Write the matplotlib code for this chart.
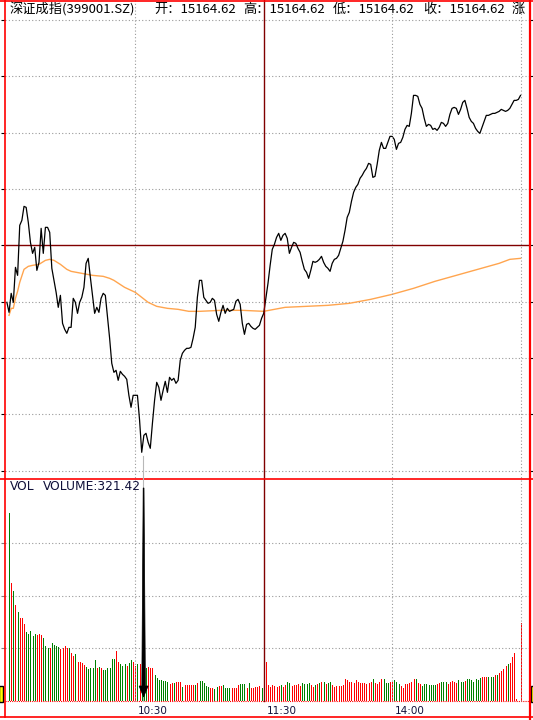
import numpy as np
import matplotlib
matplotlib.use("Agg")
import matplotlib.pyplot as plt
from matplotlib import transforms
from matplotlib.patches import Rectangle, Polygon

# ── 数据 ──────────────────────────────────────────────────
PREV_CLOSE = 15164.62
GRID_STEP = 56.35          # 价格网格间距（点）
VOL_MAX = 422.0

# 每分钟涨跌（点），第 0 ~ 240 分钟
price_chg = [
    -57, -67, -48, -57, -22, -30, 20, 25, 39, 38,
    23, 3, -8, -2, -25, -17, 17, -8, 18, 18,
    13, -23, -35, -47, -62, -50, -78, -84, -88, -82,
    -82, -53, -57, -68, -57, -52, -42, -18, -13, -32,
    -50, -68, -62, -67, -53, -48, -50, -72, -93, -118,
    -127, -125, -135, -126, -129, -131, -134, -150, -162, -150,
    -150, -150, -175, -207, -190, -188, -197, -203, -178, -155,
    -137, -142, -155, -145, -136, -147, -132, -135, -133, -138,
    -135, -115, -108, -105, -103, -103, -102, -93, -82, -52,
    -35, -35, -52, -55, -58, -57, -53, -55, -69, -76,
    -67, -60, -68, -63, -66, -65, -64, -56, -54, -59,
    -78, -89, -79, -78, -81, -83, -84, -82, -80, -73,
    -68, -53, -38, -20, -4, 1, 8, 12, 5, 10,
    12, 7, -8, -2, 3, 2, -3, -7, -16, -24,
    -27, -33, -25, -16, -17, -16, -14, -11, -17, -21,
    -23, -26, -18, -14, -13, -10, -3, 4, 15, 28,
    33, 44, 53, 58, 61, 67, 70, 74, 77, 82,
    81, 68, 69, 81, 95, 103, 97, 97, 103, 109,
    109, 106, 96, 102, 103, 108, 116, 120, 119, 132,
    150, 150, 149, 141, 137, 127, 119, 121, 120, 116,
    117, 115, 118, 123, 122, 119, 122, 131, 137, 138,
    137, 131, 136, 143, 145, 137, 128, 124, 122, 117,
    114, 112, 118, 124, 130, 130, 131, 132, 132, 133,
    134, 136, 135, 134, 135, 137, 141, 145, 145, 146,
    150,
]

# 均价线（分钟, 涨跌点）
avg_minutes = [1, 2, 3, 4, 5, 6, 8, 10, 12, 15, 18, 20, 22, 25, 28, 30, 35,
               40, 45, 48, 50, 55, 60, 63, 66, 70, 75, 80, 85, 90, 100, 110,
               120, 125, 130, 140, 150, 160, 170, 180, 190, 200, 210, 220,
               230, 235, 240]
avg_chg = [-70, -63, -63, -53, -46, -37, -24, -21, -20, -19, -15, -14, -15,
           -19, -24, -26, -28, -30, -31, -33, -35, -42, -47, -52, -57, -61,
           -63, -64, -66, -66, -65, -65, -66, -64, -62, -61, -60, -58, -54,
           -49, -43, -36, -30, -24, -18, -14, -13]

# 每分钟成交量，第 1 ~ 240 分钟
volumes = [
    358, 224, 210, 182, 170, 158, 158, 147, 132, 127,
    134, 124, 127, 126, 128, 126, 120, 105, 101, 101,
    110, 107, 105, 103, 99, 100, 105, 100, 100, 91,
    85, 89, 75, 74, 72, 68, 65, 60, 62, 62,
    77, 62, 65, 62, 58, 58, 63, 63, 79, 79,
    95, 75, 71, 66, 71, 66, 72, 77, 75, 66,
    71, 70, 85, 77, 62, 65, 63, 63, 49, 44,
    39, 39, 38, 38, 37, 32, 34, 34, 36, 36,
    36, 27, 30, 30, 30, 30, 31, 31, 34, 38,
    38, 34, 28, 27, 25, 25, 22, 27, 28, 28,
    31, 25, 25, 25, 25, 25, 25, 31, 32, 32,
    32, 25, 34, 25, 25, 27, 27, 28, 24, 24,
    75, 30, 27, 30, 28, 27, 28, 30, 27, 31,
    37, 34, 28, 30, 30, 32, 28, 34, 33, 33,
    34, 30, 27, 30, 33, 34, 36, 37, 32, 34,
    36, 30, 27, 28, 28, 28, 30, 41, 39, 36,
    36, 35, 39, 36, 34, 35, 34, 33, 34, 36,
    42, 34, 33, 36, 42, 42, 34, 34, 36, 36,
    39, 37, 32, 28, 25, 32, 32, 34, 36, 42,
    41, 34, 33, 28, 33, 32, 30, 30, 30, 30,
    33, 34, 36, 36, 36, 32, 37, 38, 36, 34,
    39, 37, 36, 38, 41, 41, 39, 36, 41, 39,
    44, 46, 46, 46, 46, 46, 46, 49, 49, 54,
    57, 60, 66, 70, 72, 84, 91, 4, 0, 149,
]
# R = 上涨(红)  G = 下跌(绿)
vol_colors = ("GRGRGRRRGG" "GGGRRRGGGR" "GGGGRRRRGR" "RGRRRRGGGG"
              "GRGRGGGGGG" "RRGGGRGGRR" "GRGGGRRRGG" "GGGGGRRGRR"
              "RGRRRRRGRG" "GGGGRRGGRR" "GGGGRRRRGG" "GRGRRRRRGR"
              "RRRRRRRGRR" "GGRRRRRGGG" "GRRGRGRGRG" "GRRRRRRRRR"
              "RRRRRRRRRR" "GRRRRGGGRR" "GGGRRRRRRR" "GRRGGGGGGG"
              "RRGGGRRRRR" "GGGRGGGGGG" "GRRRGGGRGR" "RRRGRRRRRR")

time_ticks = [60, 120, 180]
time_labels = ["10:30", "11:30", "14:00"]
grid_minutes = [60, 180, 240]
cursor_minute = 63.8

title_parts = ["深证成指(399001.SZ)", "开：15164.62", "高：15164.62",
               "低：15164.62", "收：15164.62", "涨"]

# ── 颜色 ──────────────────────────────────────────────────
C_RED = "#FF0000"
C_GREEN = "#008000"
C_DRED = "#800000"
C_GRID = "#9A9A9A"
C_AVG = "#FFA54F"
C_TEXT = "#10103A"

W, H = 533, 720
fig = plt.figure(figsize=(W / 100, H / 100), dpi=100, facecolor="white")


def px_axes(x0, y0, x1, y1):
    """像素坐标（左上为原点）-> figure 坐标"""
    return [x0 / W, 1 - y1 / H, (x1 - x0) / W, (y1 - y0) / H]


X0, X1 = 4.5, 529.3
ax = fig.add_axes(px_axes(X0, 20, X1, 470.7))
axv = fig.add_axes(px_axes(X0, 479, X1, 701), sharex=ax)
ov = fig.add_axes([0, 0, 1, 1])
ov.set_xlim(0, W)
ov.set_ylim(H, 0)
ov.axis("off")
ov.set_zorder(5)
ov.patch.set_visible(False)

for a in (ax, axv):
    a.patch.set_visible(False)
    for s in a.spines.values():
        s.set_visible(False)
    a.tick_params(axis="x", bottom=False, labelbottom=False)

ax.set_xlim(-1.12, 244.1)

# ── 分时价格 ──────────────────────────────────────────────
minutes = np.arange(len(price_chg))
prices = PREV_CLOSE + np.array(price_chg, dtype=float)
avg_prices = PREV_CLOSE + np.array(avg_chg, dtype=float)

ax.set_ylim(PREV_CLOSE - 4 * GRID_STEP, PREV_CLOSE + 4 * GRID_STEP)
levels = PREV_CLOSE + GRID_STEP * np.arange(-4, 5)
for k, lv in zip(range(-4, 5), levels):
    if k == 0:
        ax.axhline(lv, color=C_DRED, lw=1.0, zorder=1)
    else:
        ax.axhline(lv, color=C_GRID, lw=0.8, ls=(0, (1, 2)), clip_on=False, zorder=1)
ax.set_yticks(levels)
ax.tick_params(axis="y", left=True, right=True, direction="out", length=3,
               width=0.8, labelleft=False, labelright=False)
for t in ax.yaxis.get_major_ticks():
    t.tick1line.set_color("#808080")
    t.tick2line.set_color(C_RED)

ax.plot(avg_minutes, avg_prices, color=C_AVG, lw=1.0, zorder=3)
ax.plot(minutes, prices, color="black", lw=0.9, zorder=4)

# ── 成交量 ────────────────────────────────────────────────
vol_min = np.arange(1, len(volumes) + 1)
cols = [C_RED if c == "R" else C_GREEN for c in vol_colors]
axv.set_ylim(0, VOL_MAX)
for lv in (100, 200, 300):
    axv.axhline(lv, color=C_GRID, lw=0.8, ls=(0, (1, 2)), zorder=1)
axv.set_yticks([100, 200, 300])
axv.tick_params(axis="y", left=True, right=False, direction="out", length=3,
                width=0.8, color="#808080", labelleft=False)
axv.vlines(vol_min, 0, volumes, colors=cols, lw=0.5, antialiased=False, zorder=3)
axv.axhline(0, color=C_RED, lw=0.8, ls=(0, (1, 1)), clip_on=False, zorder=2)

# ── 竖向网格 / 午间分隔 ────────────────────────────────────
tx = transforms.blended_transform_factory(ax.transData, ov.transData)
for m in grid_minutes:
    ov.plot([m, m], [0, 701], transform=tx, color=C_GRID, lw=0.8,
            ls=(0, (1, 2)), zorder=1)
ov.plot([120, 120], [0, 701], transform=tx, color=C_DRED, lw=1.0, zorder=2)

for m, lab in zip(time_ticks, time_labels):
    ov.text(m + 1.4, 711, lab, transform=tx, ha="left", va="center",
            fontsize=7.5, color=C_TEXT, family="DejaVu Sans")

# ── 边框 ──────────────────────────────────────────────────
ov.plot([0, W], [0.5, 0.5], color=C_RED, lw=1.2)
ov.plot([X0, X0], [0, 717], color=C_RED, lw=1.2)
ov.plot([0, W], [717, 717], color=C_RED, lw=1.2)
ov.plot([0, W], [479, 479], color=C_RED, lw=1.2)
ov.plot([X1 + 0.7, X1 + 0.7], [0, H], color=C_RED, lw=1.6)
ov.add_patch(Rectangle((-1, 686), 3.8, 16, facecolor="#FFFF00",
                       edgecolor="black", lw=1.0))
ov.add_patch(Rectangle((530.5, 686), 4, 16, facecolor="#FFFF00",
                       edgecolor="black", lw=1.0))

# ── 光标 ──────────────────────────────────────────────────
ov.plot([cursor_minute, cursor_minute], [456, 701], transform=tx,
        color="#B8B8B8", lw=0.8, zorder=6)
cx = 143.6
ov.add_patch(Polygon([(cx - 0.4, 488), (cx + 0.4, 488), (cx + 1.8, 686),
                      (cx + 4.5, 686), (cx, 697), (cx - 4.5, 686),
                      (cx - 1.8, 686)], closed=True, facecolor="black",
                     edgecolor="black", lw=0.5, zorder=7))

# ── 文字 ──────────────────────────────────────────────────
for xp, s in zip([10, 154, 243, 333, 423, 512], title_parts):
    ov.text(xp, 9.5, s, ha="left", va="center", fontsize=9.5, color="black",
            family=["Noto Sans CJK SC", "DejaVu Sans"])

ov.text(10, 486.5, "VOL", ha="left", va="center", fontsize=8.8,
        color=C_TEXT, family="DejaVu Sans")
ov.text(43, 486.5, "VOLUME:321.42", ha="left", va="center", fontsize=8.8,
        color=C_TEXT, family="DejaVu Sans")

fig.savefig("out.png", dpi=100)
